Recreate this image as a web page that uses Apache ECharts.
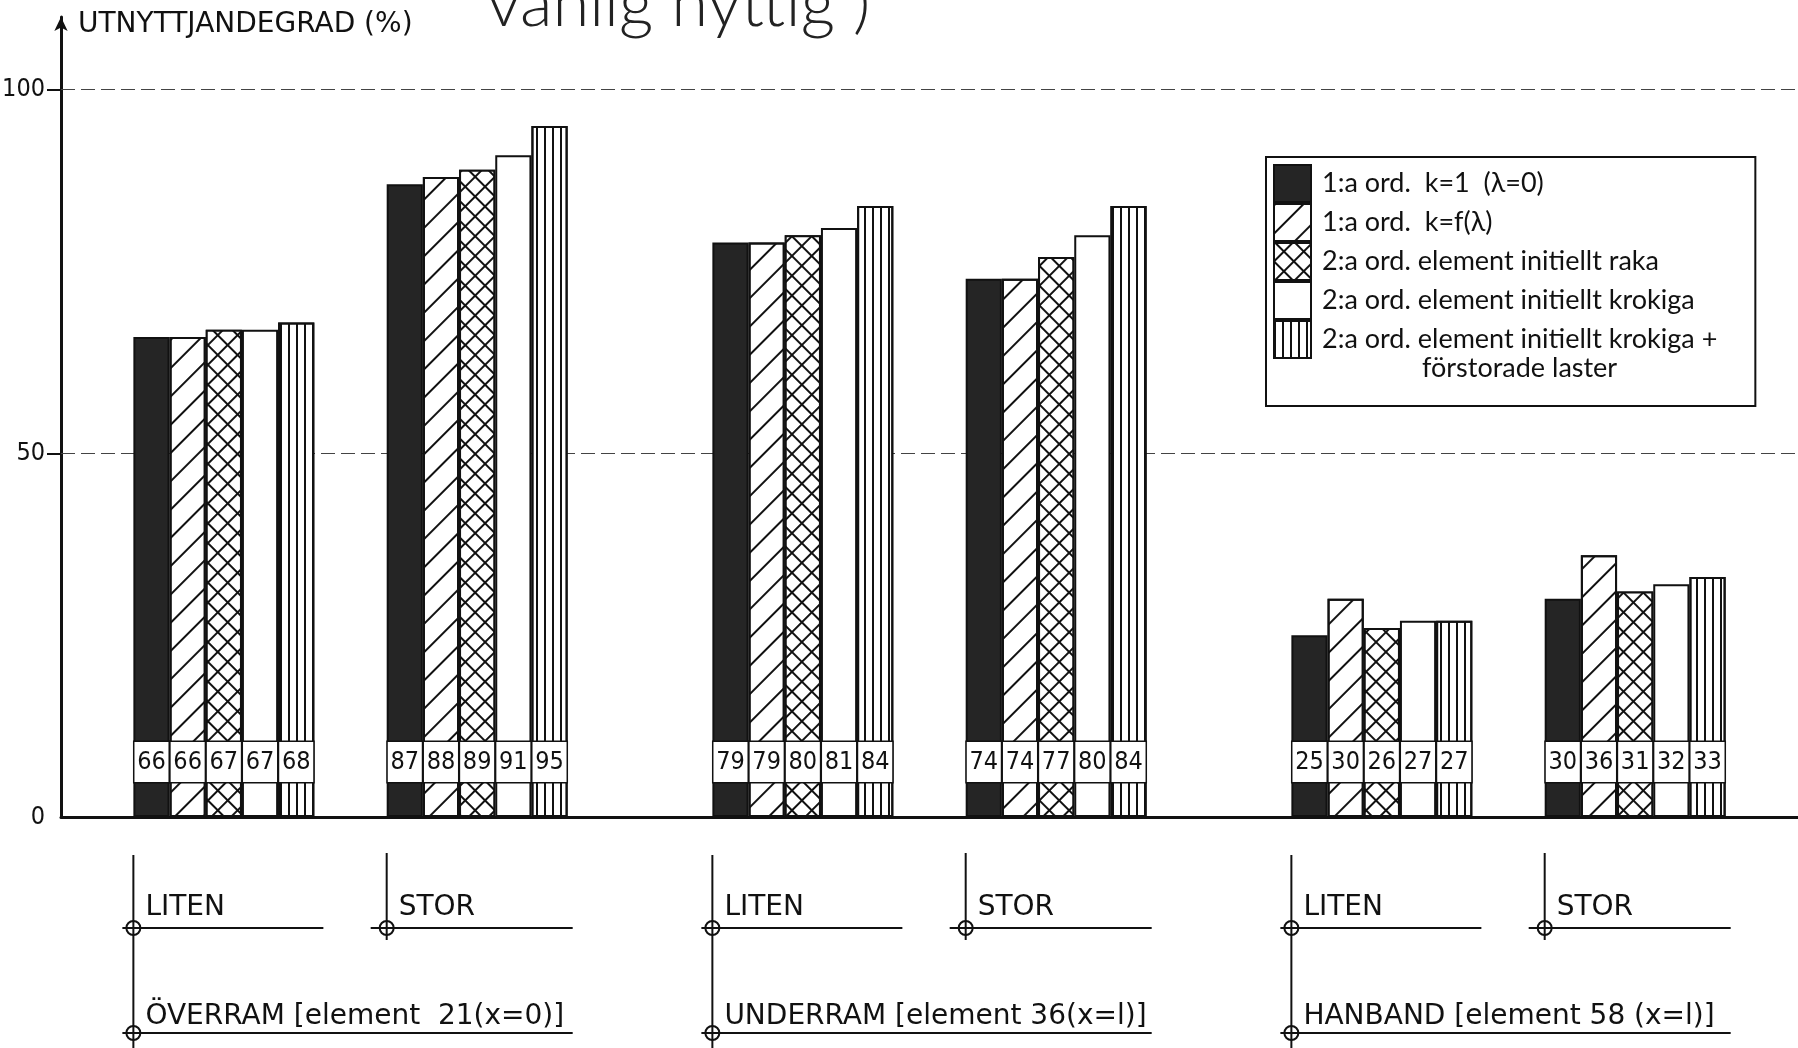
<!DOCTYPE html>
<html style="height: 100%">
<head>
    <meta charset="utf-8">
</head>
<body style="height: 100%; margin: 0; background: #fff">
<div id="container" style="width: 1798px; height: 1048px"></div>
<script type="text/javascript" src="https://cdn.jsdelivr.net/npm/echarts@6/dist/echarts.min.js"></script>
<script type="text/javascript">
// legend names, one per bar pattern
var seriesNames = [
    '1:a ord.  k=1  (λ=0)',
    '1:a ord.  k=f(λ)',
    '2:a ord. element initiellt raka',
    '2:a ord. element initiellt krokiga',
    '2:a ord. element initiellt krokiga +'
];
var legendExtraLine = 'förstorade laster';

// clusters: överram liten/stor, underram liten/stor, hanband liten/stor
var sizeLabels = ['LITEN', 'STOR'];
var memberLabels = ['ÖVERRAM [element  21(x=0)]', 'UNDERRAM [element 36(x=l)]', 'HANBAND [element 58 (x=l)]'];

var valuesK1 = [66, 87, 79, 74, 25, 30];
var valuesKf = [66, 88, 79, 74, 30, 36];
var valuesRaka = [67, 89, 80, 77, 26, 31];
var valuesKrokiga = [67, 91, 81, 80, 27, 32];
var valuesLaster = [68, 95, 84, 84, 27, 33];

var yLabelValues = [0, 50, 100];
var yTitle = 'UTNYTTJANDEGRAD (%)';
var topText = 'vanlig nyttig )';

// layout: every bar takes one slot of a category axis
var slotCount = 48;
var clusterStart = [2, 9, 18, 25, 34, 41];

var ink = '#111';
var allValues = [valuesK1, valuesKf, valuesRaka, valuesKrokiga, valuesLaster];

var barStyles = [
    {color: '#252525'},
    {color: '#fff', decal: {symbol: 'rect', symbolSize: 1, color: ink, dashArrayX: [1, 0], dashArrayY: [2, 18], rotation: -Math.PI / 4}},
    {color: ink, decal: {symbol: 'rect', symbolSize: 1, color: '#fff', dashArrayX: [12, 2], dashArrayY: [12, 2], rotation: Math.PI / 4}},
    {color: '#fff'},
    {color: '#fff', decal: {symbol: 'rect', symbolSize: 1, color: ink, dashArrayX: [2, 6], dashArrayY: [10, 0]}}
];

var slots = [];
for (var i = 0; i < slotCount; i++) {
    slots.push(String(i));
}

var series = allValues.map(function (vals, s) {
    var data = slots.map(function () { return '-'; });
    vals.forEach(function (v, c) {
        data[clusterStart[c] + s] = v;
    });
    var item = {
        name: seriesNames[s],
        type: 'bar',
        data: data,
        barWidth: '100%',
        barGap: '-100%',
        z: 3,
        itemStyle: {
            color: barStyles[s].color,
            decal: barStyles[s].decal || null,
            borderColor: ink,
            borderWidth: 2
        },
        label: {
            show: true,
            position: 'insideBottom',
            distance: 35,
            formatter: '{c}',
            color: ink,
            fontSize: 25,
            fontFamily: 'DejaVu Sans Condensed',
            backgroundColor: '#fff',
            borderColor: ink,
            borderWidth: 1.5,
            width: 34,
            align: 'center',
            lineHeight: 29,
            padding: [6, 0, 5, 0]
        }
    };
    if (s === 3) {
        item.markLine = {
            silent: true,
            symbol: ['none', 'none'],
            z: 1,
            label: {show: false},
            lineStyle: {color: '#444', width: 1.2, type: [14, 6]},
            data: [{yAxis: 50}, {yAxis: 100}]
        };
    }
    return item;
});

var dom = document.getElementById('container');
var myChart = echarts.init(dom, null, {renderer: 'canvas'});

var option = {
    backgroundColor: '#fff',
    animation: false,
    grid: {left: 61, right: 0, top: 17, bottom: 231, outerBoundsMode: 'none', containLabel: false},
    legend: {
        orient: 'vertical',
        left: 1266,
        top: 157,
        icon: 'rect',
        itemWidth: 37,
        itemHeight: 37,
        itemGap: 0,
        padding: [7, 38, 47, 7],
        borderColor: ink,
        borderWidth: 2,
        selectedMode: false,
        itemStyle: {borderColor: ink, borderWidth: 2},
        textStyle: {
            color: ink,
            fontSize: 27,
            lineHeight: 32,
            fontFamily: 'Lato',
            padding: [0, 0, 0, 6]
        },
        data: seriesNames
    },
    xAxis: {
        type: 'category',
        data: slots,
        axisLine: {lineStyle: {color: ink, width: 3}},
        axisTick: {show: false},
        axisLabel: {show: false}
    },
    yAxis: {
        type: 'value',
        min: 0,
        max: 110,
        interval: 50,
        axisLine: {show: true, symbol: ['none', 'arrow'], symbolSize: [10, 14], lineStyle: {color: ink, width: 3}},
        axisTick: {show: true, length: 14, lineStyle: {color: ink, width: 2}, customValues: [50, 100]},
        axisLabel: {
            customValues: yLabelValues,
            margin: 16,
            color: ink,
            fontSize: 25,
            fontFamily: 'DejaVu Sans Condensed',
            formatter: function (v) { return yLabelValues.indexOf(v) >= 0 ? String(v) : ''; }
        },
        splitLine: {show: false}
    },
    series: series
};
myChart.setOption(option);

// hand drawn annotation under the axis, placed from the category axis
function slotLeft(idx) {
    var c0 = myChart.convertToPixel({xAxisIndex: 0}, idx);
    var c1 = myChart.convertToPixel({xAxisIndex: 0}, idx + 1);
    return c0 - (c1 - c0) / 2;
}
function line(x1, y1, x2, y2) {
    return {type: 'line', shape: {x1: x1, y1: y1, x2: x2, y2: y2}, style: {stroke: ink, lineWidth: 2}, silent: true};
}
function ring(cx, cy) {
    return {type: 'circle', shape: {cx: cx, cy: cy, r: 7}, style: {fill: 'none', stroke: ink, lineWidth: 2}, silent: true};
}
function label(x, y, text, size, family) {
    return {
        type: 'text', x: x, y: y, silent: true,
        style: {text: text, fill: ink, fontSize: size, fontFamily: family || 'DejaVu Sans', verticalAlign: 'bottom', align: 'left'}
    };
}

var graphics = [];
memberLabels.forEach(function (name, g) {
    var xL = slotLeft(clusterStart[2 * g]);
    var xS = slotLeft(clusterStart[2 * g + 1]);
    graphics.push(line(xL, 855, xL, 1048));
    graphics.push(line(xL - 11, 928, xL + 190, 928));
    graphics.push(ring(xL, 928));
    graphics.push(label(xL + 12, 922, sizeLabels[0], 28));
    graphics.push(line(xS, 853, xS, 940));
    graphics.push(line(xS - 16, 928, xS + 186, 928));
    graphics.push(ring(xS, 928));
    graphics.push(label(xS + 12, 922, sizeLabels[1], 28));
    graphics.push(line(xL - 11, 1033, xS + 186, 1033));
    graphics.push(ring(xL, 1033));
    graphics.push(label(xL + 12, 1031, name, 28));
});
graphics.push(label(78, 39, yTitle, 28));
graphics.push({
    type: 'text', x: 487, y: 4, silent: true,
    style: {text: topText, fill: '#222', fontSize: 67, fontFamily: 'Lato', fontWeight: 300, verticalAlign: 'middle', align: 'left'}
});
graphics.push({
    type: 'text', x: 1422, y: 368, silent: true,
    style: {text: legendExtraLine, fill: ink, fontSize: 27, fontFamily: 'Lato', verticalAlign: 'middle', align: 'left'}
});

myChart.setOption({graphic: graphics});
</script>
</body>
</html>
